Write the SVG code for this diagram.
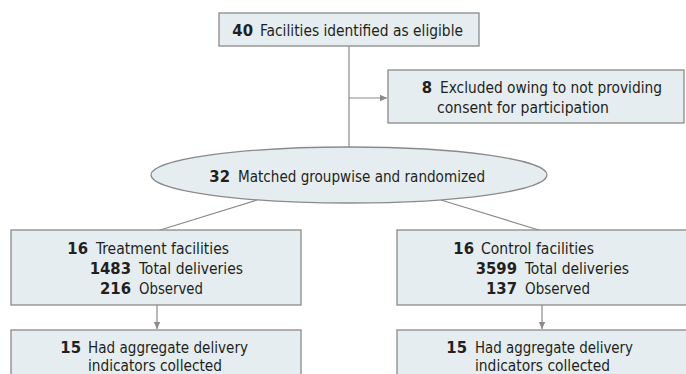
<svg xmlns="http://www.w3.org/2000/svg" width="686" height="374" viewBox="0 0 686 374">
<defs>
<style>
.box{fill:#e5edf1;stroke:#8a8a8a;stroke-width:1.3}
.ln{fill:none;stroke:#8a8a8a;stroke-width:1.2}
text{font-family:"Liberation Sans Narrow","DejaVu Sans Condensed","Liberation Sans",sans-serif;font-size:16.5px;fill:#231f20}
.b{font-weight:bold;text-anchor:end}
</style>
<marker id="ah" markerWidth="8" markerHeight="8" refX="7" refY="4" orient="auto" markerUnits="userSpaceOnUse">
<path d="M0,0.8 L7,4 L0,7.2 Z" fill="#8a8a8a"/>
</marker>
</defs>
<rect width="686" height="374" fill="#ffffff"/>
<g id="connectors">
<line class="ln" x1="349" y1="46" x2="349" y2="150"/>
<line class="ln" x1="349" y1="98" x2="387" y2="98" marker-end="url(#ah)"/>
<line class="ln" x1="257" y1="200" x2="157" y2="231"/>
<line class="ln" x1="441" y1="200" x2="542" y2="231"/>
<line class="ln" x1="157" y1="305" x2="157" y2="329" marker-end="url(#ah)"/>
<line class="ln" x1="542" y1="305" x2="542" y2="329" marker-end="url(#ah)"/>
</g>
<g id="eligible">
<rect class="box" x="219" y="13" width="260" height="33"/>
<text class="b" x="253" y="35.5">40</text>
<text x="260" y="35.5" textLength="203" lengthAdjust="spacingAndGlyphs">Facilities identified as eligible</text>
</g>
<g id="excluded">
<rect class="box" x="388" y="70" width="296" height="53"/>
<text class="b" x="432" y="92.5">8</text>
<text x="440" y="92.5" textLength="222" lengthAdjust="spacingAndGlyphs">Excluded owing to not providing</text>
<text x="437" y="112.5" textLength="172" lengthAdjust="spacingAndGlyphs">consent for participation</text>
</g>
<g id="randomized">
<ellipse class="box" cx="349" cy="175" rx="198" ry="28"/>
<text class="b" x="230" y="181.5">32</text>
<text x="238" y="181.5" textLength="247" lengthAdjust="spacingAndGlyphs">Matched groupwise and randomized</text>
</g>
<g id="treatment">
<rect class="box" x="11" y="230" width="290" height="75"/>
<text class="b" x="88" y="253.5">16</text>
<text x="96" y="253.5" textLength="133" lengthAdjust="spacingAndGlyphs">Treatment facilities</text>
<text class="b" x="131" y="273.5">1483</text>
<text x="139" y="273.5" textLength="104" lengthAdjust="spacingAndGlyphs">Total deliveries</text>
<text class="b" x="131" y="293.5">216</text>
<text x="139" y="293.5" textLength="64" lengthAdjust="spacingAndGlyphs">Observed</text>
</g>
<g id="control">
<rect class="box" x="397" y="230" width="290" height="75"/>
<text class="b" x="474" y="253.5">16</text>
<text x="481" y="253.5" textLength="113" lengthAdjust="spacingAndGlyphs">Control facilities</text>
<text class="b" x="517" y="273.5">3599</text>
<text x="525" y="273.5" textLength="104" lengthAdjust="spacingAndGlyphs">Total deliveries</text>
<text class="b" x="517" y="293.5">137</text>
<text x="525" y="293.5" textLength="65" lengthAdjust="spacingAndGlyphs">Observed</text>
</g>
<g id="treatment-collected">
<rect class="box" x="11" y="330" width="290" height="60"/>
<text class="b" x="81" y="353">15</text>
<text x="88" y="353" textLength="160" lengthAdjust="spacingAndGlyphs">Had aggregate delivery</text>
<text x="88" y="371" textLength="134" lengthAdjust="spacingAndGlyphs">indicators collected</text>
</g>
<g id="control-collected">
<rect class="box" x="397" y="330" width="290" height="60"/>
<text class="b" x="467" y="353">15</text>
<text x="475" y="353" textLength="158" lengthAdjust="spacingAndGlyphs">Had aggregate delivery</text>
<text x="475" y="371" textLength="135" lengthAdjust="spacingAndGlyphs">indicators collected</text>
</g>
</svg>
